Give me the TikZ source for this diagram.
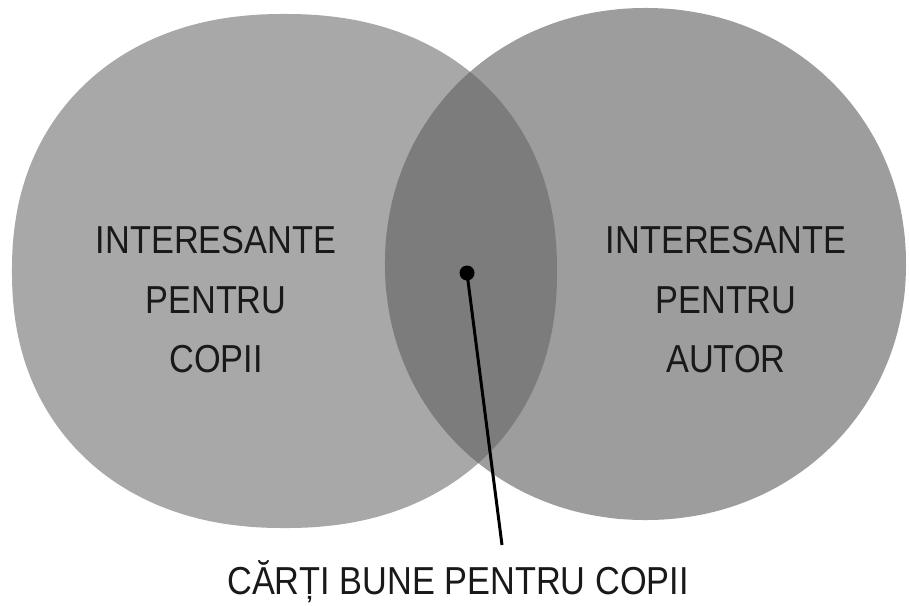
\documentclass[tikz,border=0pt]{standalone}
\usepackage{fontspec}
\newfontfamily\vennfont[FakeStretch=0.88]{Liberation Sans}
\definecolor{copiigray}{RGB}{168,168,168}
\definecolor{autorgray}{RGB}{157,157,157}
\definecolor{bothgray}{RGB}{124,124,124}
\tikzset{
  venntext/.style={font=\vennfont\fontsize{39}{59.5}\selectfont, align=center, text=black!90},
  declare function={blobr(\t,\n)=(abs(cos(\t))^\n+abs(sin(\t))^\n)^(-1/\n);},
}
% rounded blobs (superellipses), in pixel units
\newcommand{\copiiblob}{plot[domain=0.5:357.5, samples=120, smooth]
  ({284.5+272.5*cos(\x)*blobr(\x,2.2)}, {271+257*sin(\x)*blobr(\x,2.2)}) -- cycle}
\newcommand{\autorblob}{plot[domain=0.5:357.5, samples=120, smooth]
  ({645.5+260.5*cos(\x)*blobr(\x,2.05)}, {264+256*sin(\x)*blobr(\x,2.05)}) -- cycle}
\begin{document}
\begin{tikzpicture}[x=1pt, y=-1pt]
  \useasboundingbox (0,0) rectangle (909,605);
  \fill[copiigray] \copiiblob;
  \fill[autorgray] \autorblob;
  \begin{scope}
    \clip \copiiblob;
    \fill[bothgray] \autorblob;
  \end{scope}
  \node[venntext] (copii) at (216,300) {INTERESANTE\\PENTRU\\COPII};
  \node[venntext] (autor) at (726,300) {INTERESANTE\\PENTRU\\AUTOR};
  \node[venntext] (carti) at (458,582) {CĂRȚI BUNE PENTRU COPII};
  \coordinate (dot) at (467,273);
  \coordinate (tip) at (502,545);
  \fill (dot) circle [radius=7.5pt];
  \draw[line width=3pt] (dot) -- (tip);
\end{tikzpicture}
\end{document}
